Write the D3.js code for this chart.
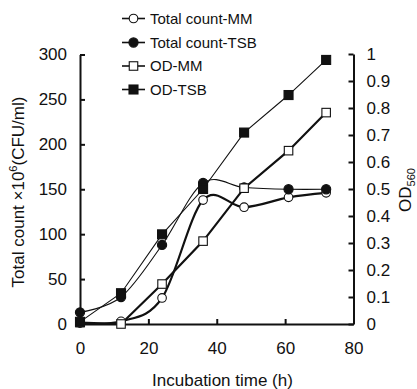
<!DOCTYPE html>
<html><head><meta charset="utf-8">
<script src="https://cdn.jsdelivr.net/npm/d3@7"></script>
<style>body{margin:0;background:#fff}svg{display:block}text{font-family:"Liberation Sans",Arial,sans-serif;fill:#111}</style>
</head><body>
<svg id="c" width="417" height="389"></svg>
<script>
const hours = [0, 12, 24, 36, 48, 61, 72];
const countMM = [1, 3, 29, 138, 130, 141, 146];
const countTSB = [13, 30, 88, 157, 152, 150, 150];
const odMM = [0.005, 0.0, 0.148, 0.307, 0.503, 0.642, 0.783];
const odTSB = [0.008, 0.114, 0.332, 0.50, 0.709, 0.848, 0.978];
const xTicks = [0, 20, 40, 60, 80];
const leftTicks = [0, 50, 100, 150, 200, 250, 300];
const rightTicks = [0, 0.1, 0.2, 0.3, 0.4, 0.5, 0.6, 0.7, 0.8, 0.9, 1];
const legendLabels = ["Total count-MM", "Total count-TSB", "OD-MM", "OD-TSB"];

const svg = d3.select("#c");
const ink = "#111";
const x = d3.scaleLinear().domain([0, 80]).range([80, 353.5]);
const yL = d3.scaleLinear().domain([0, 300]).range([324, 54.5]);
const yR = d3.scaleLinear().domain([0, 1]).range([324, 54]);

const series = [
  {name: legendLabels[0], vals: countMM, y: yL, curve: d3.curveCardinal.tension(0), lw: 2.2, shape: "circle", filled: false},
  {name: legendLabels[1], vals: countTSB, y: yL, curve: d3.curveCardinal.tension(0), lw: 1.1, shape: "circle", filled: true},
  {name: legendLabels[2], vals: odMM, y: yR, curve: d3.curveLinear, lw: 2.2, shape: "square", filled: false},
  {name: legendLabels[3], vals: odTSB, y: yR, curve: d3.curveLinear, lw: 1.1, shape: "square", filled: true}
];

function styleAxis(g, fs) {
  g.select(".domain").attr("stroke", ink).attr("stroke-width", 2);
  g.selectAll(".tick line").attr("stroke", ink).attr("stroke-width", 2);
  g.selectAll(".tick text").attr("font-size", fs).attr("fill", ink)
    .style("font-family", '"Liberation Sans",Arial,sans-serif');
}
const gx = svg.append("g").attr("transform", "translate(0,324)")
  .call(d3.axisBottom(x).tickValues(xTicks).tickSize(-5).tickSizeOuter(0).tickPadding(18).tickFormat(d3.format("d")));
styleAxis(gx, 17);
const gl = svg.append("g").attr("transform", "translate(80,0)")
  .call(d3.axisLeft(yL).tickValues(leftTicks).tickSize(-5).tickSizeOuter(0).tickPadding(13).tickFormat(d3.format("d")));
styleAxis(gl, 17);
const gr = svg.append("g").attr("transform", "translate(353.5,0)")
  .call(d3.axisRight(yR).tickValues(rightTicks).tickSize(-5).tickSizeOuter(0).tickPadding(13).tickFormat(d => String(Math.round(d * 10) / 10)));
styleAxis(gr, 17);

svg.append("text").attr("x", 222.5).attr("y", 386).attr("text-anchor", "middle")
  .attr("font-size", 17).text("Incubation time (h)");
const lt = svg.append("text").attr("transform", "translate(24,192) rotate(-90)")
  .attr("text-anchor", "middle").attr("font-size", 17);
lt.append("tspan").text("Total count \u00d710");
lt.append("tspan").attr("font-size", 11).attr("dy", -7).text("6");
lt.append("tspan").attr("dy", 7).text("(CFU/ml)");
const rt = svg.append("text").attr("transform", "translate(411,190) rotate(-90)")
  .attr("text-anchor", "middle").attr("font-size", 17);
rt.append("tspan").text("OD");
rt.append("tspan").attr("font-size", 11).attr("dy", 4).text("560");

series.forEach(s => {
  const line = d3.line().x((d, i) => x(hours[i])).y(d => s.y(d)).curve(s.curve);
  svg.append("path").attr("d", line(s.vals)).attr("fill", "none")
    .attr("stroke", ink).attr("stroke-width", s.lw);
});

function marker(g, shape, filled, cx, cy) {
  if (shape === "circle") {
    g.append("circle").attr("cx", cx).attr("cy", cy).attr("r", filled ? 4.6 : 4.3)
      .attr("fill", filled ? ink : "#fff").attr("stroke", ink).attr("stroke-width", 1.1);
  } else {
    const s = filled ? 9 : 8.5;
    g.append("rect").attr("x", cx - s / 2).attr("y", cy - s / 2).attr("width", s).attr("height", s)
      .attr("fill", filled ? ink : "#fff").attr("stroke", ink).attr("stroke-width", 1.1);
  }
}
const mg = svg.append("g");
series.forEach(s => {
  s.vals.forEach((v, i) => marker(mg, s.shape, s.filled, x(hours[i]), s.y(v)));
});

const legY = [18.5, 42.5, 66, 89.5];
series.forEach((s, i) => {
  const g = svg.append("g");
  g.append("line").attr("x1", 122).attr("x2", 145).attr("y1", legY[i]).attr("y2", legY[i])
    .attr("stroke", ink).attr("stroke-width", 1.6);
  marker(g, s.shape, s.filled, 133.5, legY[i]);
  g.append("text").attr("x", 150).attr("y", legY[i] + 5.3).attr("font-size", 15).text(s.name);
});
</script>
</body></html>
